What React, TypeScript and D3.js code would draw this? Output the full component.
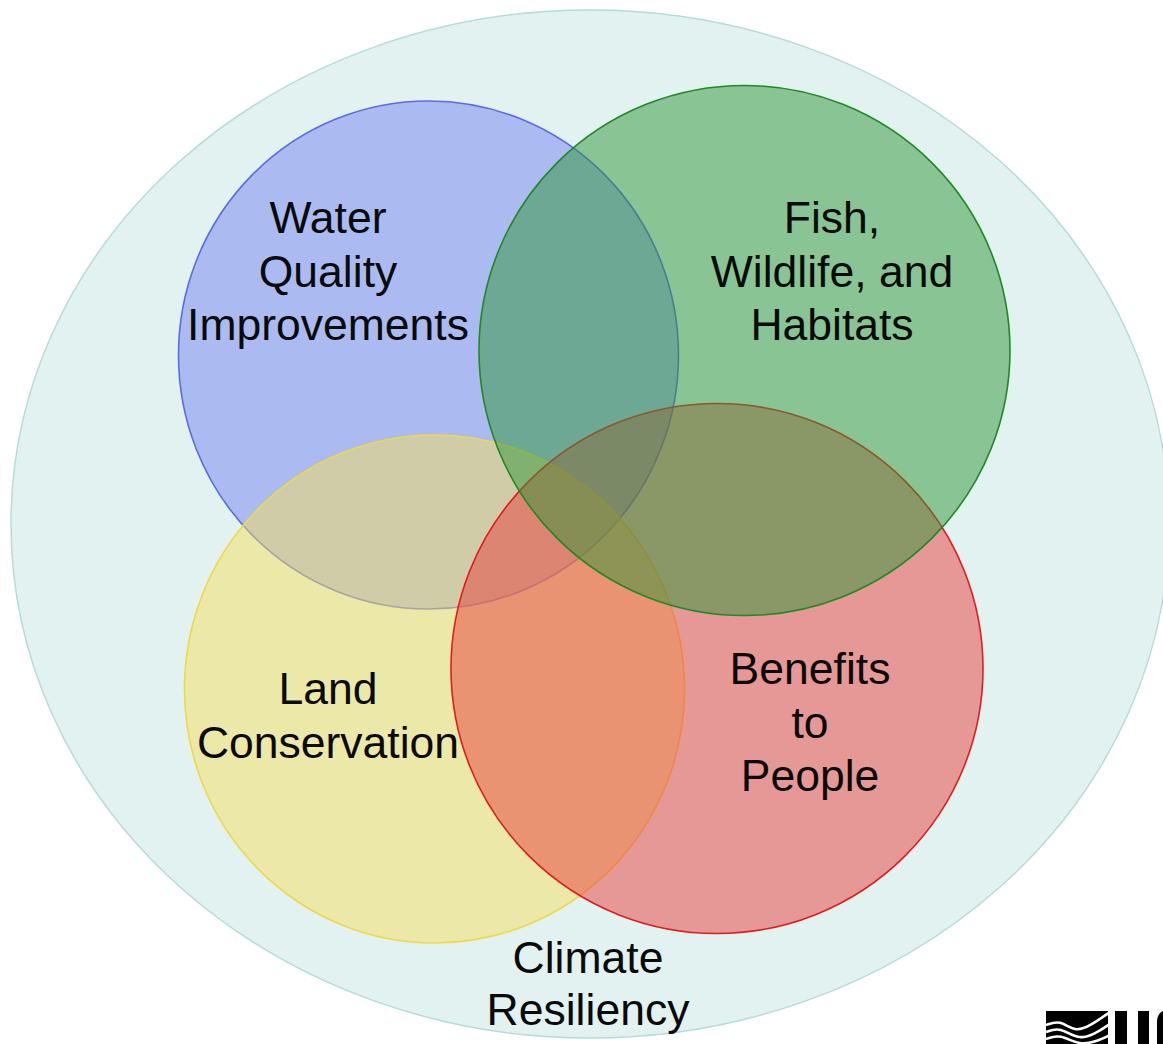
import React, { useEffect, useRef } from "react";
import * as d3 from "d3";

// ---- data ----
const setNames = ["Water Quality Improvements", "Land Conservation", "Benefits to People", "Fish, Wildlife, and Habitats"];
const setLabelLines = [
  ["Water", "Quality", "Improvements"],
  ["Land", "Conservation"],
  ["Benefits", "to", "People"],
  ["Fish,", "Wildlife, and", "Habitats"],
];
const outerLabelLines = ["Climate", "Resiliency"];

// ---- layout / styles (kept separate from data) ----
const W = 1163;
const H = 1044;
const outer = { cx: 590, cy: 524, rx: 579, ry: 514, fill: "#e2f2f1", stroke: "#b6dbd8" };
const geom = [
  { cx: 428.5, cy: 355, rx: 250, ry: 254, fill: "rgb(116,132,241)", stroke: "#5a6be6", lx: 328, ly: 233 },
  { cx: 434.5, cy: 689, rx: 250, ry: 254, fill: "rgb(246,222,95)", stroke: "#efd84a", lx: 328, ly: 704 },
  { cx: 717, cy: 668.5, rx: 266, ry: 265, fill: "rgb(232,62,59)", stroke: "#e21c1c", lx: 810, ly: 684 },
  { cx: 744.5, cy: 350.5, rx: 265.5, ry: 265, fill: "rgb(48,150,56)", stroke: "#1f8a22", lx: 832, ly: 233 },
];
const lineH = 53.5;
const fontSize = 44.5;

export default function App() {
  const ref = useRef<SVGSVGElement>(null);
  useEffect(() => {
    const svg = d3.select(ref.current);
    svg.selectAll("*").remove();
    svg.append("rect").attr("width", W).attr("height", H).attr("fill", "#ffffff");

    svg.append("ellipse")
      .attr("cx", outer.cx).attr("cy", outer.cy).attr("rx", outer.rx).attr("ry", outer.ry)
      .attr("fill", outer.fill).attr("stroke", outer.stroke).attr("stroke-width", 1.5);

    const sets = setNames.map((n, i) => ({ name: n, lines: setLabelLines[i], ...geom[i] }));

    const g = svg.append("g");
    g.selectAll("g.set").data(sets).join("g").attr("class", "set").each(function (d) {
      const s = d3.select(this);
      s.append("ellipse")
        .attr("cx", d.cx).attr("cy", d.cy).attr("rx", d.rx).attr("ry", d.ry)
        .attr("fill", d.fill).attr("fill-opacity", 0.5)
        .attr("stroke", d.stroke).attr("stroke-width", 1.6);
    });

    const fontFamily = "'Liberation Sans', Arial, sans-serif";
    const labels = svg.append("g").attr("font-family", fontFamily).attr("font-size", fontSize)
      .attr("fill", "#0a0a0a").attr("text-anchor", "middle");
    sets.forEach((d) => {
      d.lines.forEach((t, j) => {
        labels.append("text").attr("x", d.lx).attr("y", d.ly + j * lineH).text(t);
      });
    });
    outerLabelLines.forEach((t, j) => {
      labels.append("text").attr("x", 588).attr("y", 973 + j * 52).text(t);
    });

    // USGS logo fragment (bottom-right, cut off)
    const logo = svg.append("g");
    logo.append("path")
      .attr("d", "M1046,1011 L1108,1011 L1108,1044 L1046,1044 Z")
      .attr("fill", "#000");
    const wave = d3.line<[number, number]>().curve(d3.curveBasis);
    const waves: [number, number][][] = [
      [[1046, 1025], [1060, 1020], [1075, 1032], [1090, 1026], [1110, 1012]],
      [[1046, 1032], [1060, 1027], [1078, 1040], [1095, 1034], [1110, 1024]],
      [[1046, 1039], [1060, 1034], [1080, 1046], [1100, 1040], [1110, 1035]],
    ];
    waves.forEach((p) => {
      logo.append("path").attr("d", wave(p)).attr("fill", "none").attr("stroke", "#fff").attr("stroke-width", 2.6);
    });
    logo.append("rect").attr("x", 1115).attr("y", 1011).attr("width", 12).attr("height", 33).attr("fill", "#000");
    logo.append("rect").attr("x", 1138).attr("y", 1011).attr("width", 11).attr("height", 33).attr("fill", "#000");
    logo.append("path").attr("d", "M1163,1011 C1160,1012 1157,1016 1157,1022 L1157,1044 L1163,1044 Z").attr("fill", "#000");
  }, []);

  return (
    <svg ref={ref} width={W} height={H} style={{ position: "absolute", left: 0, top: 0, display: "block" }} />
  );
}
